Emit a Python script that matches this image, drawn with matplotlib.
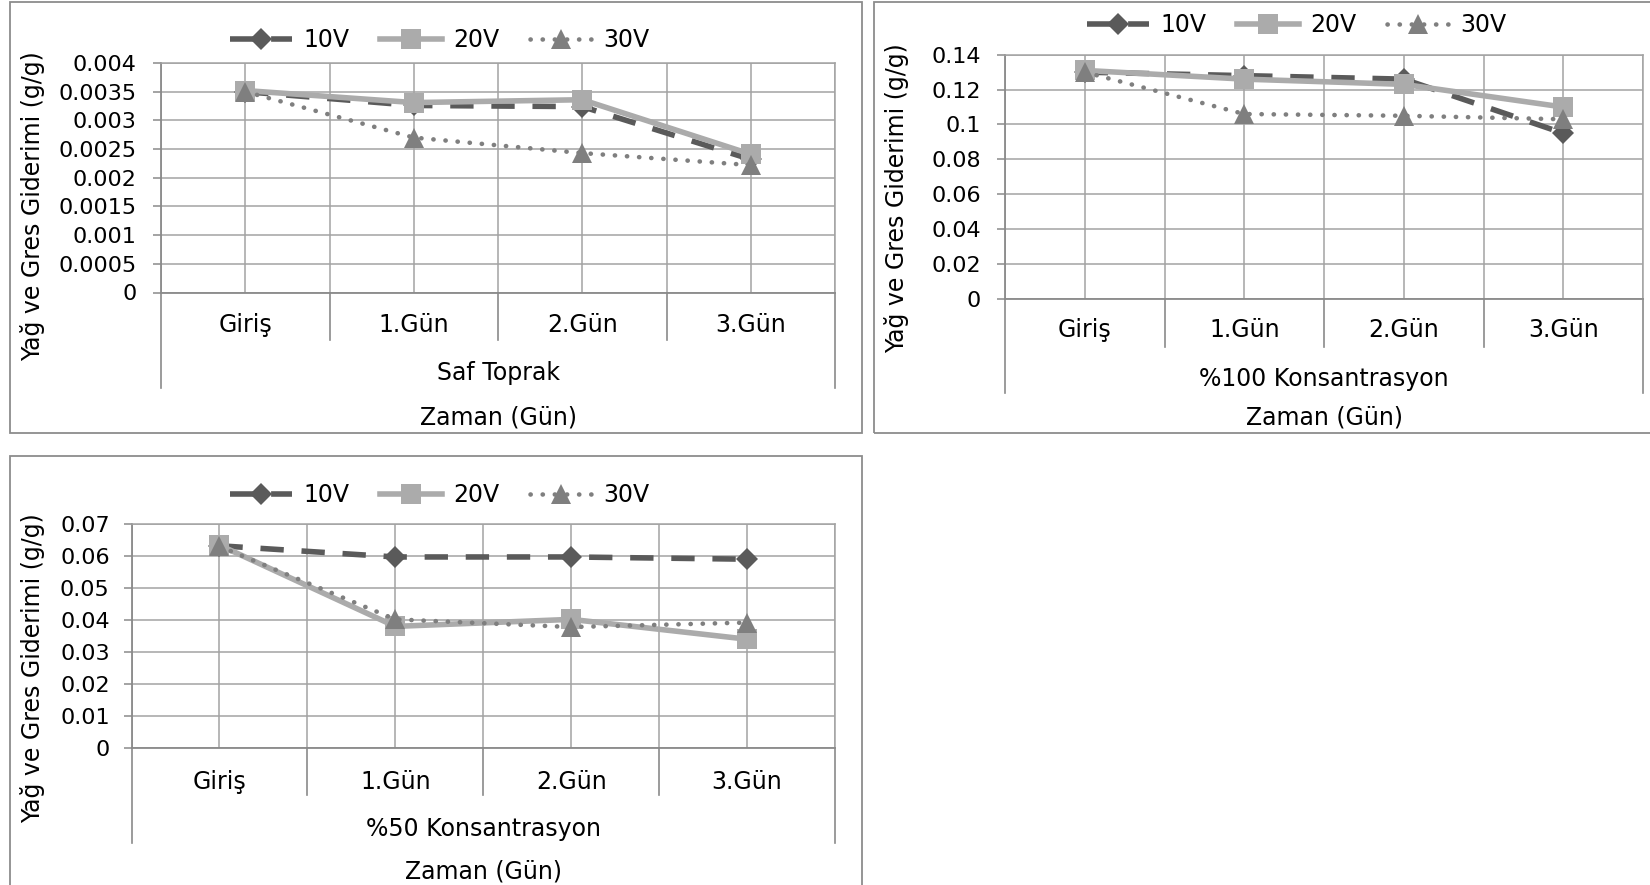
import matplotlib
matplotlib.use('Agg')
import matplotlib.pyplot as plt
from matplotlib.patches import Rectangle

W, H = 1650, 885

gunler = ['Giriş', '1.Gün', '2.Gün', '3.Gün']
seriler = ['10V', '20V', '30V']

# Saf Toprak
saf_10v = [0.00350, 0.00326, 0.00324, 0.00232]
saf_20v = [0.00352, 0.00331, 0.00336, 0.00241]
saf_30v = [0.00350, 0.00270, 0.00243, 0.00222]
saf_ticks = [0, 0.0005, 0.001, 0.0015, 0.002, 0.0025, 0.003, 0.0035, 0.004]

# %100 Konsantrasyon
k100_10v = [0.130, 0.128, 0.126, 0.095]
k100_20v = [0.131, 0.126, 0.123, 0.110]
k100_30v = [0.130, 0.106, 0.105, 0.103]
k100_ticks = [0, 0.02, 0.04, 0.06, 0.08, 0.1, 0.12, 0.14]

# %50 Konsantrasyon
k50_10v = [0.0632, 0.0597, 0.0597, 0.0590]
k50_20v = [0.0634, 0.0380, 0.0402, 0.0340]
k50_30v = [0.0630, 0.0402, 0.0378, 0.0392]
k50_ticks = [0, 0.01, 0.02, 0.03, 0.04, 0.05, 0.06, 0.07]

stil = {
    '10V': dict(color='#5a5a5a', lw=4.0, ls=(0, (4.2, 3.2)), marker='D', ms=11),
    '20V': dict(color='#ababab', lw=4.0, ls='-', marker='s', ms=15),
    '30V': dict(color='#7f7f7f', lw=3.3, ls=(0, (0.05, 2.6)), marker='^', ms=15,
                dash_capstyle='round'),
}

GRID = '#a3a3a3'
AXC = '#8a8a8a'

fig = plt.figure(figsize=(W / 100, H / 100), dpi=100)


def fx(x):
    return x / W


def fy(y):
    return 1 - y / H


def panel(kutu, alan, veri, ticks, grup, lab_x, lab_y, leg, pad, ic_alt, dis_alt,
          y_kat, y_grup, y_zaman):
    # dis cerceve
    x0, y0, x1, y1 = kutu
    fig.add_artist(Rectangle((fx(x0), fy(y1)), fx(x1 - x0), (y1 - y0) / H,
                             transform=fig.transFigure, fill=False,
                             edgecolor='#8c8c8c', lw=1.3))
    l, t, r, b = alan
    ax = fig.add_axes([fx(l), fy(b), fx(r - l), (b - t) / H])
    x = [i + 0.5 for i in range(len(gunler))]
    cizgiler = []
    for ad, y in zip(seriler, veri):
        s = stil[ad]
        ln, = ax.plot(x, y, label=ad, markeredgewidth=0, zorder=3, clip_on=False, **s)
        cizgiler.append(ln)
    ax.set_xlim(0, 4)
    ax.set_ylim(ticks[0], ticks[-1])
    ax.set_yticks(ticks)
    ax.set_yticklabels([f'{v:g}' for v in ticks])
    ax.set_xticks([i * 0.5 for i in range(9)])
    ax.set_xticklabels([])
    ax.tick_params(axis='x', length=0)
    ax.tick_params(axis='y', length=6, width=1.1, color=AXC, pad=pad, labelsize=16)
    ax.grid(True, color=GRID, lw=1.1, zorder=0)
    for k in ['top', 'right']:
        ax.spines[k].set_color(GRID)
        ax.spines[k].set_linewidth(1.1)
    for k in ['left', 'bottom']:
        ax.spines[k].set_color(AXC)
        ax.spines[k].set_linewidth(1.3)

    h = b - t
    tr = ax.get_xaxis_transform()
    for i in range(5):
        alt = dis_alt if i in (0, 4) else ic_alt
        ax.plot([i, i], [0, -(alt - b) / h], transform=tr, color=AXC, lw=1.2,
                clip_on=False)
    for i, g in enumerate(gunler):
        ax.text(i + 0.5, -(y_kat - b) / h, g, transform=tr, ha='center',
                va='center', fontsize=17)
    ax.text(2, -(y_grup - b) / h, grup, transform=tr, ha='center', va='center',
            fontsize=17)
    ax.text(2, -(y_zaman - b) / h, 'Zaman (Gün)', transform=tr, ha='center',
            va='center', fontsize=17)
    fig.text(fx(lab_x), fy(lab_y), 'Yağ ve Gres Giderimi (g/g)', rotation=90,
             ha='center', va='center', fontsize=17)
    ax.legend(handles=cizgiler, loc='center', bbox_to_anchor=(fx(leg[0]), fy(leg[1])),
              bbox_transform=fig.transFigure, ncol=3, frameon=False, fontsize=17,
              handlelength=2.6, handletextpad=0.5, columnspacing=1.3, borderpad=0,
              borderaxespad=0)
    return ax


panel((10, 2, 862, 433), (161, 63, 835, 292.5), [saf_10v, saf_20v, saf_30v],
      saf_ticks, 'Saf Toprak', 33, 206, (440, 40), 11.5, 340, 388, 325, 373, 417)
panel((874, 2, 1662, 433), (1005, 54.7, 1643, 299), [k100_10v, k100_20v, k100_30v],
      k100_ticks, '%100 Konsantrasyon', 897, 198, (1297, 25), 11.5, 347, 393,
      330, 379, 418)
panel((10, 456, 862, 900), (131.5, 524, 835, 748), [k50_10v, k50_20v, k50_30v],
      k50_ticks, '%50 Konsantrasyon', 33, 668, (440, 495), 9.7, 795, 843,
      782, 829, 872)

fig.savefig('out.png', dpi=100)
